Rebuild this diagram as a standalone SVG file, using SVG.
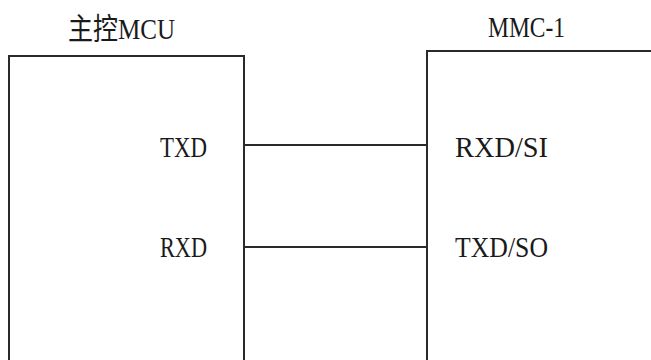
<svg xmlns="http://www.w3.org/2000/svg" width="651" height="360" viewBox="0 0 651 360">
<style>
.box{fill:none;stroke:#2a2a2a;stroke-width:2}
.wire{stroke:#2a2a2a;stroke-width:2}
.t{font-family:"Liberation Serif","Noto Sans CJK SC",serif;font-size:30px;fill:#1a1a1a}
</style>
<rect width="651" height="360" fill="#fff"/>
<g id="mcu">
<path class="box" d="M9,362 V56 H244 V362"/>
<text class="t" x="68" y="39" textLength="107" lengthAdjust="spacingAndGlyphs">主控MCU</text>
<text class="t" x="160" y="157" textLength="47" lengthAdjust="spacingAndGlyphs">TXD</text>
<text class="t" x="160" y="257" textLength="47" lengthAdjust="spacingAndGlyphs">RXD</text>
</g>
<g id="mmc">
<path class="box" d="M427,362 V51 H653"/>
<text class="t" x="488" y="37" textLength="77" lengthAdjust="spacingAndGlyphs">MMC-1</text>
<text class="t" x="455" y="157" textLength="93" lengthAdjust="spacingAndGlyphs">RXD/SI</text>
<text class="t" x="455" y="257" textLength="93" lengthAdjust="spacingAndGlyphs">TXD/SO</text>
</g>
<g id="connectors">
<line class="wire" x1="244" y1="145" x2="427" y2="145"/>
<line class="wire" x1="244" y1="247" x2="427" y2="247"/>
</g>
</svg>
